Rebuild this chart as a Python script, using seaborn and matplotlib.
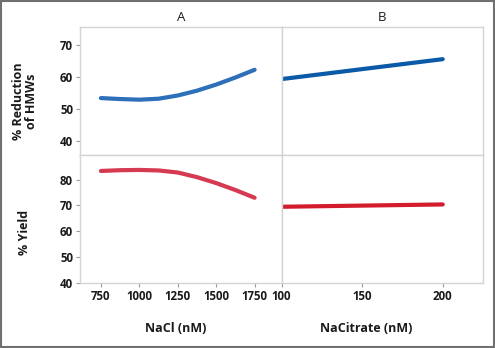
import matplotlib
matplotlib.use("Agg")
import matplotlib.pyplot as plt
import matplotlib.patches as mpatches
import seaborn as sns
import pandas as pd

# ---- data ----
nacl = [750, 875, 1000, 1125, 1250, 1375, 1500, 1625, 1750]
hmw_nacl = [53.5, 53.2, 53.0, 53.3, 54.3, 55.8, 57.7, 59.9, 62.3]
yield_nacl = [83.4, 83.7, 83.8, 83.6, 82.8, 81.0, 78.7, 76.0, 73.0]

nacitrate = [100, 200]
hmw_citrate = [59.4, 65.6]
yield_citrate = [69.5, 70.4]

col_titles = ["A", "B"]
x_labels = ["NaCl (nM)", "NaCitrate (nM)"]
row_labels = ["% Reduction\nof HMWs", "% Yield"]
xticks_a = [750, 1000, 1250, 1500, 1750]
xticks_b = [100, 150, 200]
yticks_top = [40, 50, 60, 70]
yticks_bot = [40, 50, 60, 70, 80]

sns.set_theme(style="white")
plt.rcParams['font.family'] = ['Open Sans', 'DejaVu Sans']

fig, axes = plt.subplots(2, 2, figsize=(4.95, 3.48), dpi=100,
                         sharex='col', sharey='row',
                         gridspec_kw=dict(hspace=0, wspace=0))
fig.subplots_adjust(left=80/495, right=483/495, top=1-27/348, bottom=1-283/348)

df_a = pd.DataFrame({"x": nacl, "hmw": hmw_nacl, "yld": yield_nacl})
df_b = pd.DataFrame({"x": nacitrate, "hmw": hmw_citrate, "yld": yield_citrate})

lw = 3.0
sns.lineplot(data=df_a, x="x", y="hmw", ax=axes[0, 0], color="#2d6fb8", lw=lw)
sns.lineplot(data=df_b, x="x", y="hmw", ax=axes[0, 1], color="#0a5aa8", lw=lw)
sns.lineplot(data=df_a, x="x", y="yld", ax=axes[1, 0], color="#d63a52", lw=lw)
sns.lineplot(data=df_b, x="x", y="yld", ax=axes[1, 1], color="#d21c2c", lw=lw)

axes[0, 0].set_ylim(35.8, 75.6)
axes[1, 0].set_ylim(39.9, 89.6)
axes[1, 0].set_xlim(614, 1925)
axes[1, 1].set_xlim(100, 225)
axes[0, 0].set_yticks(yticks_top)
axes[1, 0].set_yticks(yticks_bot)
axes[1, 0].set_xticks(xticks_a)
axes[1, 1].set_xticks(xticks_b)

spine_c = "#d4d4d4"
for ax in axes.flat:
    ax.set_xlabel("")
    ax.set_ylabel("")
    for s in ax.spines.values():
        s.set_color(spine_c)
        s.set_linewidth(1.0)
    ax.tick_params(axis='both', which='both', length=3, width=0.8, color="#9a9a9a",
                   labelsize=8.3, labelcolor="#1a1a1a", pad=2)

for ax in axes[:, 1]:
    ax.tick_params(axis='y', left=False, labelleft=False)
for ax in axes[0, :]:
    ax.tick_params(axis='x', bottom=False, labelbottom=False)
axes[1, 0].tick_params(axis='x', bottom=True, labelbottom=True)
axes[1, 1].tick_params(axis='x', bottom=True, labelbottom=True)
axes[1, 0].tick_params(axis='y', left=True, labelleft=True)
axes[0, 0].tick_params(axis='y', left=True, labelleft=True)
for lab in axes[1, 0].get_xticklabels() + axes[1, 1].get_xticklabels() + \
        axes[0, 0].get_yticklabels() + axes[1, 0].get_yticklabels():
    lab.set_fontweight("bold")

for ax, t in zip(axes[0, :], col_titles):
    ax.set_title(t, fontsize=9.5, color="#1a1a1a", pad=4)

fig.text(176/495, 1-329/348, x_labels[0], ha='center', va='center',
         fontsize=9, fontweight='bold', color="#1a1a1a")
fig.text(366/495, 1-329/348, x_labels[1], ha='center', va='center',
         fontsize=9, fontweight='bold', color="#1a1a1a")
fig.text(25/495, 1-101/348, row_labels[0], ha='center', va='center', rotation=90,
         fontsize=9, fontweight='bold', color="#1a1a1a", linespacing=1.05)
fig.text(25/495, 1-232/348, row_labels[1], ha='center', va='center', rotation=90,
         fontsize=9, fontweight='bold', color="#1a1a1a")

fig.patches.append(mpatches.Rectangle((0.002, 0.003), 0.995, 0.994,
                                      transform=fig.transFigure, fill=False,
                                      edgecolor="#707070", lw=1.5))

fig.savefig("out.png", dpi=100)
